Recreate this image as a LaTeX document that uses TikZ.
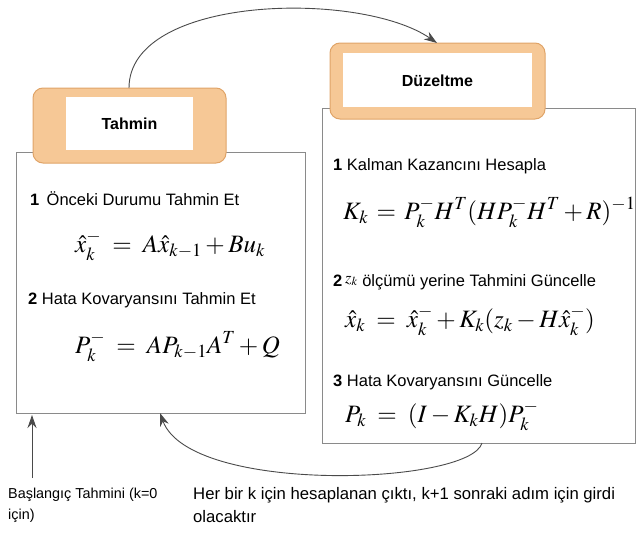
\documentclass[tikz,border=0pt]{standalone}
\usepackage{mathptmx}
\usepackage{fontspec}
\setmainfont{Liberation Sans}
\usetikzlibrary{arrows.meta}
\definecolor{tabfill}{HTML}{F6C896}
\definecolor{tabdraw}{HTML}{E0A468}
\definecolor{boxdraw}{HTML}{8A8A8A}
\definecolor{arr}{HTML}{4A4A4A}
\tikzset{
  panel/.style={draw=boxdraw, line width=0.9pt, fill=white},
  tabouter/.style={draw=tabdraw, line width=1pt, fill=tabfill, rounded corners=10pt},
  tabinner/.style={fill=white, draw=none},
  tablabel/.style={font=\fontsize{16}{18}\selectfont\bfseries, inner sep=0pt},
  steptext/.style={anchor=base west, inner sep=0pt, font=\fontsize{16.5}{19}\selectfont},
  formula/.style={anchor=base west, inner sep=0pt, font=\fontsize{25}{28}\selectfont},
  flow/.style={draw=arr, line width=0.9pt, -{Stealth[length=13pt,width=9pt]}},
  note/.style={anchor=base west, inner sep=0pt, align=left}
}
\begin{document}
\begin{tikzpicture}[x=1pt,y=-1pt]
\useasboundingbox (0,0) rectangle (638,533);
% panels
\draw[panel] (16,152) rectangle (305,413);
\draw[panel] (322,108) rectangle (635,443);
% tabs
\draw[tabouter] (33,88) rectangle (226,163);
\fill[tabinner] (66,97) rectangle (193,150);
\node[tablabel] (tahmin) at (129.5,124) {Tahmin};
\draw[tabouter] (330,43) rectangle (545,119);
\fill[tabinner] (343,53) rectangle (532,107);
\node[tablabel] (duzeltme) at (437.5,81) {Düzeltme};
% named anchors for connectors
\coordinate (tahTop) at (129,88);
\coordinate (duzTop) at (437,43);
\coordinate (corBot) at (482,443);
\coordinate (preBot) at (160,413);
\coordinate (initBot) at (32,478);
\coordinate (initTop) at (32,415);
% left panel text
\node[steptext] (s1) at (30,205) {\textbf{1} \,Önceki Durumu Tahmin Et};
\node[formula] (f1) at (75,252) {$\hat{x}_k^{-} \;=\; A\hat{x}_{k-1} + Bu_k$};
\node[steptext] (s2) at (28,304) {\textbf{2} Hata Kovaryansını Tahmin Et};
\node[formula] (f2) at (75,353) {$P_k^{-} \;=\; AP_{k-1}A^T + Q$};
% right panel text
\node[steptext] (r1) at (333,170) {\textbf{1} Kalman Kazancını Hesapla};
\node[formula] (g1) at (343,219) {$K_k \,=\, P_k^{-}H^T(HP_k^{-}H^T + R)^{-1}$};
\node[steptext] (r2) at (333,286) {\textbf{2}\,\raisebox{3pt}{$z_k$} ölçümü yerine Tahmini Güncelle};
\node[formula] (g2) at (345,327) {$\hat{x}_k \;=\; \hat{x}_k^{-} + K_k(z_k - H\hat{x}_k^{-})$};
\node[steptext] (r3) at (333,386) {\textbf{3} Hata Kovaryansını Güncelle};
\node[formula] (g3) at (345,422) {$P_k \;=\; (I - K_kH)P_k^{-}$};
% notes (anchored at the baseline of the last line)
\node[note, font=\fontsize{14.4}{21}\selectfont] (n1) at (8,519) {Başlangıç Tahmini (k=0\\için)};
\node[note, font=\fontsize{16.7}{23}\selectfont] (n2) at (193,522) {Her bir k için hesaplanan çıktı, k+1 sonraki adım için girdi\\olacaktır};
% connectors
\draw[flow] (tahTop) .. controls (129,-5) and (360,-10) .. (duzTop);
\draw[flow] (corBot) .. controls (470,485) and (190,495) .. (preBot);
\draw[flow] (initBot) -- (initTop);
\end{tikzpicture}
\end{document}
